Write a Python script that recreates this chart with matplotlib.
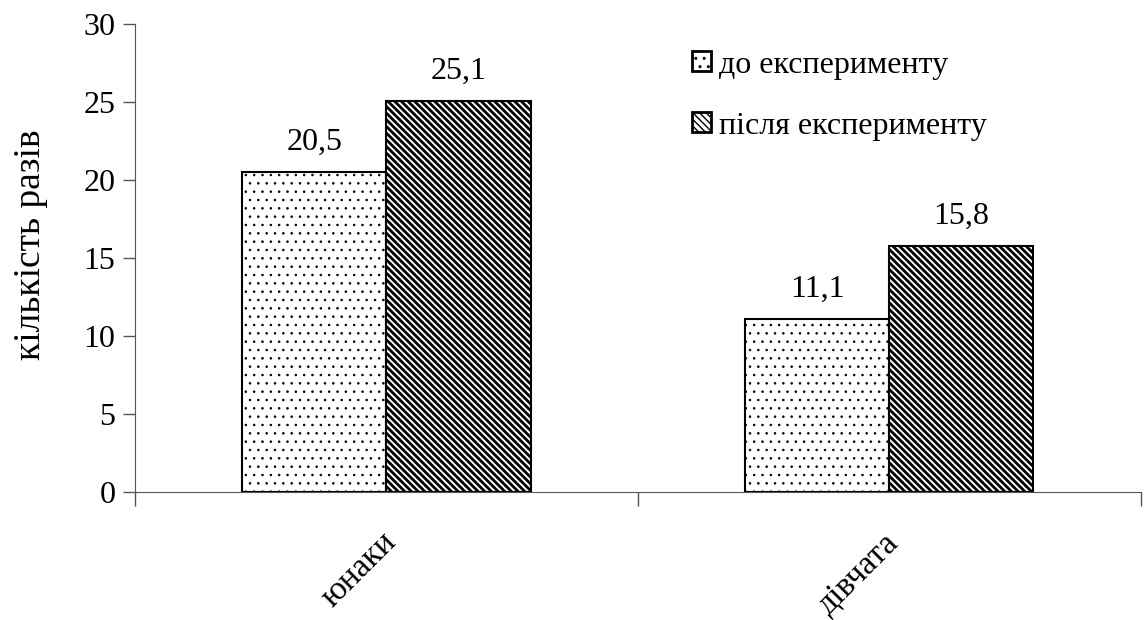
import numpy as np
import matplotlib.pyplot as plt
from matplotlib.transforms import ScaledTranslation

plt.rcParams['font.family'] = ['Liberation Serif', 'DejaVu Serif']

groups = ['юнаки', 'дівчата']
series_names = ['до експерименту', 'після експерименту']
before = [20.5, 11.1]
after = [25.1, 15.8]
value_labels_before = ['20,5', '11,1']
value_labels_after = ['25,1', '15,8']

fig = plt.figure(figsize=(11.44, 6.2), dpi=100)
ax = fig.add_axes([0.118, 0.206, 0.879, 0.755])

x = np.arange(len(groups))
w = 0.287


def hatched_bars(xs, vals, hatch, hlw, label):
    with plt.rc_context({'hatch.linewidth': hlw}):
        bars = ax.bar(xs, vals, w, color='white', edgecolor='black',
                      linewidth=1.5, hatch=hatch, label=label)
    for b in bars:
        if hasattr(b, 'set_hatch_linewidth'):
            b.set_hatch_linewidth(hlw)
    return bars


b1 = hatched_bars(x - w / 2, before, '..', 0.6, series_names[0])
b2 = hatched_bars(x + w / 2, after, '\\\\\\\\\\', 2.0, series_names[1])

# value labels over the bars
for bars, labels in [(b1, value_labels_before), (b2, value_labels_after)]:
    for rect, txt in zip(bars, labels):
        ax.annotate(txt, (rect.get_x() + rect.get_width() / 2, rect.get_height()),
                    xytext=(0, 11), textcoords='offset points',
                    ha='center', va='bottom', fontsize=23)

ax.set_xlim(-0.5, 1.5)
ax.set_ylim(0, 30)
ax.set_yticks(range(0, 31, 5))
ax.tick_params(axis='y', labelsize=23, direction='out', length=9, width=1,
               color='#555555', pad=5)

ax.set_xticks(x)
ax.set_xticklabels(groups, rotation=45, ha='right', rotation_mode='anchor',
                   fontsize=24)
ax.tick_params(axis='x', which='major', length=0, pad=25)
shift = ScaledTranslation(-6 / 100, 0, fig.dpi_scale_trans)
for lbl in ax.get_xticklabels():
    lbl.set_transform(lbl.get_transform() + shift)
ax.set_xticks([-0.5, 0.5, 1.5], minor=True)
ax.tick_params(axis='x', which='minor', length=10, width=1, color='#555555',
               direction='out')

for s in ['top', 'right']:
    ax.spines[s].set_visible(False)
ax.spines['left'].set_color('#555555')
ax.spines['bottom'].set_color('#555555')

ax.set_ylabel('кількість разів', fontsize=27)
ax.yaxis.set_label_coords(-0.087, 0.528)

leg = ax.legend(loc='upper left', bbox_to_anchor=(0.525, 1.005), frameon=False,
                fontsize=23, handlelength=0.6, handleheight=0.6,
                handletextpad=0.25, labelspacing=1.0)
for h in leg.get_patches():
    h.set_linewidth(2.0)

fig.savefig('out.png', dpi=100)
